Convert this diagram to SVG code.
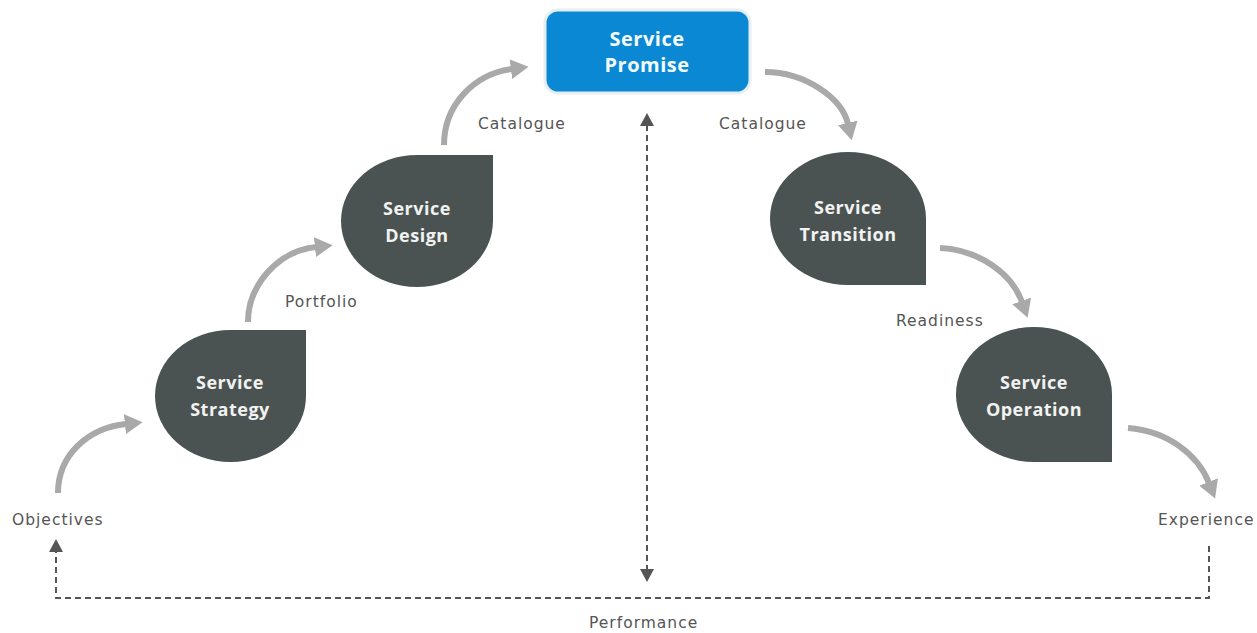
<svg xmlns="http://www.w3.org/2000/svg" width="1257" height="633" viewBox="0 0 1257 633">
<defs>
<style>
.node{fill:#4a5351;}
.ntext{font-family:"Open Sans","DejaVu Sans",sans-serif;font-weight:bold;font-size:18px;fill:#f2f2f2;text-anchor:middle;letter-spacing:0.5px;}
.ptext{font-family:"Open Sans","DejaVu Sans",sans-serif;font-weight:bold;font-size:20px;fill:#f4fbff;text-anchor:middle;letter-spacing:0.5px;}
.lbl{font-family:"DejaVu Sans","Open Sans",sans-serif;font-size:15.5px;fill:#555;letter-spacing:1px;}
.flow{fill:none;stroke:#a9a9a9;stroke-width:6;marker-end:url(#gh);}
.dash{fill:none;stroke:#555;stroke-width:2;stroke-dasharray:6,4;}
</style>
<marker id="gh" markerUnits="userSpaceOnUse" markerWidth="20" markerHeight="20" refX="1" refY="9" orient="auto" viewBox="0 0 18 18">
<path d="M0,0 L16,9 L0,18 z" fill="#a9a9a9"/>
</marker>
<marker id="dh" markerUnits="userSpaceOnUse" markerWidth="14" markerHeight="14" refX="1" refY="7" orient="auto-start-reverse" viewBox="0 0 14 14">
<path d="M0,0 L13,7 L0,14 z" fill="#555"/>
</marker>
</defs>
<rect width="1257" height="633" fill="#ffffff"/>

<g id="connectors">
<path class="flow" d="M58 493 C58 455 88 428 126 424"/>
<path class="flow" d="M248 322 C248 285 278 251 316 247"/>
<path class="flow" d="M444 145 C444 105 474 74 512 69"/>
<path class="flow" d="M765 72 C805 72 842 98 848 124"/>
<path class="flow" d="M940 248 C980 250 1012 274 1022 302"/>
<path class="flow" d="M1128 428 C1168 431 1198 455 1209 483"/>
<path class="dash" d="M647 125 V570" marker-start="url(#dh)" marker-end="url(#dh)"/>
<path class="dash" d="M1209 546 V598 H56 V551" marker-end="url(#dh)"/>
</g>

<g id="promise">
<rect x="545" y="10" width="205" height="83" rx="13" fill="#0a88d4" stroke="#e6eef2" stroke-width="3"/>
<text class="ptext" x="647" y="46">Service</text>
<text class="ptext" x="647" y="72">Promise</text>
</g>

<g id="strategy">
<path class="node" d="M306 330 V396 A75.5 66 0 0 1 230.5 462 A75.5 66 0 0 1 155 396 A75.5 66 0 0 1 230.5 330 Z"/>
<text class="ntext" x="230" y="389">Service</text>
<text class="ntext" x="230" y="416">Strategy</text>
</g>

<g id="design">
<path class="node" d="M493 155 V221 A76 66 0 0 1 417 287 A76 66 0 0 1 341 221 A76 66 0 0 1 417 155 Z"/>
<text class="ntext" x="417" y="215">Service</text>
<text class="ntext" x="417" y="242">Design</text>
</g>

<g id="transition">
<path class="node" d="M926 285 H848 A78 66.5 0 0 1 770 218.5 A78 66.5 0 0 1 848 152 A78 66.5 0 0 1 926 218.5 Z"/>
<text class="ntext" x="848" y="214">Service</text>
<text class="ntext" x="848" y="241">Transition</text>
</g>

<g id="operation">
<path class="node" d="M1112 462 H1034 A78 67.5 0 0 1 956 394.5 A78 67.5 0 0 1 1034 327 A78 67.5 0 0 1 1112 394.5 Z"/>
<text class="ntext" x="1034" y="389">Service</text>
<text class="ntext" x="1034" y="416">Operation</text>
</g>

<g id="labels">
<text class="lbl" x="478" y="129">Catalogue</text>
<text class="lbl" x="719" y="129">Catalogue</text>
<text class="lbl" x="285" y="307">Portfolio</text>
<text class="lbl" x="896" y="326">Readiness</text>
<text class="lbl" x="12" y="525">Objectives</text>
<text class="lbl" x="1158" y="525">Experience</text>
<text class="lbl" x="589" y="628">Performance</text>
</g>
</svg>
